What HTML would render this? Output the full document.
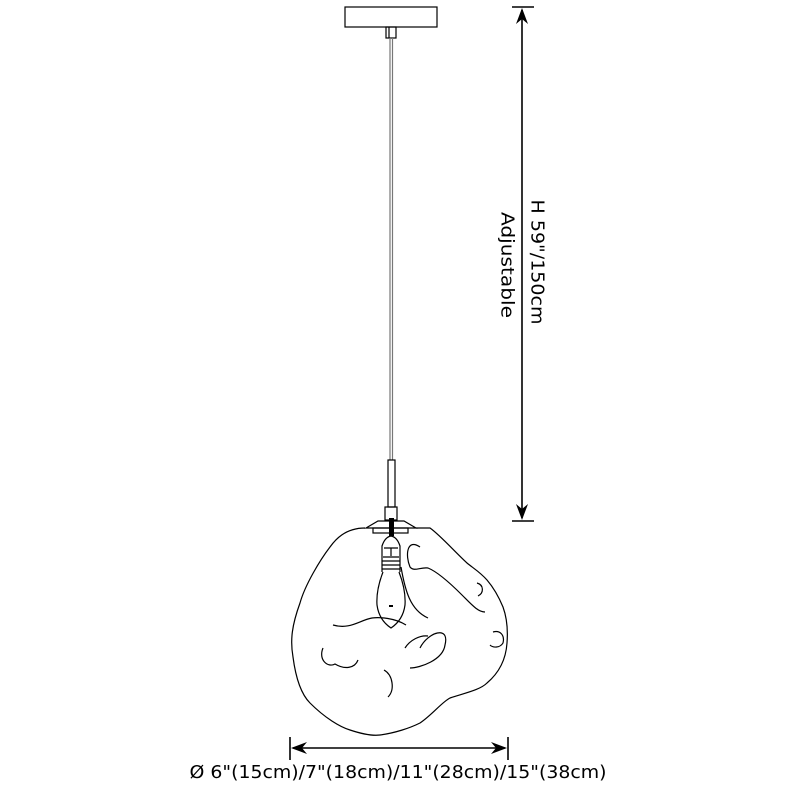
<!DOCTYPE html>
<html><head><style>
html,body{margin:0;padding:0;background:#fff;}
svg{display:block;}
text{font-family:"DejaVu Sans","Liberation Sans",sans-serif;fill:#000;}
</style></head><body>
<svg width="800" height="787" viewBox="0 0 800 787">
<g fill="none" stroke="#000" stroke-width="1.2">
<rect x="345" y="7" width="92" height="20"/>
<rect x="386" y="27" width="10" height="11"/>
<line x1="389" y1="27" x2="389" y2="38"/>
<line x1="390" y1="38" x2="390" y2="460" stroke="#777"/>
<line x1="392.5" y1="38" x2="392.5" y2="460" stroke="#777"/>
<rect x="388" y="460" width="7" height="47"/>
<rect x="385" y="507" width="12" height="13"/>
<path d="M366 528 L378 521 L404 521 L416 528 Z"/>
<rect x="373" y="528" width="35" height="5"/>
<path d="M382 572 L382 546 Q385 537 391 536 Q397 537 400 546 L400 572"/>
<path d="M384 548 H398 M391 548 V556"/>
<path d="M383 557 H399 M382 561 H400 M382 565 H400 M382 569 H400"/>
<path d="M383 572 Q376 590 377 605 Q379 620 391 628 Q403 620 405 605 Q406 590 399 572"/>
<path d="M365 528 C345 528 335 540 330 547 C320 560 305 585 300 603 C292 625 290 640 293 657 C296 680 302 695 310 703 C325 718 340 727 350 730 C362 734 372 736 380 735 C395 733 410 728 420 723 C432 715 442 702 450 698 C465 693 480 690 487 683 C500 672 506 658 507 643 C508 630 507 618 503 607 C498 595 493 587 487 580 C480 572 473 568 467 563 C455 552 440 535 430 528 L416 528"/>
<path d="M420 547 C407 538 405 555 410 567 C414 572 420 567 428 568 C438 572 452 585 462 595 C472 605 478 612 485 612"/>
<path d="M477 583 C484 585 484 593 478 596"/>
<path d="M401 567 C405 590 410 610 428 618"/>
<path d="M333 625 C350 630 360 620 372 618 C380 617 395 618 406 625"/>
<path d="M420 648 C428 632 450 625 445 645 C443 660 420 668 410 668 M405 648 C410 640 420 635 428 636"/>
<path d="M493 632 C500 630 505 635 503 643 C500 648 493 648 490 645"/>
<path d="M323 648 C318 660 328 668 335 664 C345 670 355 668 358 660"/>
<path d="M384 670 C393 675 395 690 388 697"/>
<line x1="512" y1="7" x2="534" y2="7" stroke-width="1.6"/>
<line x1="512" y1="521" x2="534" y2="521" stroke-width="1.6"/>
<line x1="522" y1="10" x2="522" y2="518" stroke-width="1.6"/>
<line x1="290" y1="737" x2="290" y2="760" stroke-width="1.6"/>
<line x1="508" y1="737" x2="508" y2="760" stroke-width="1.6"/>
<line x1="293" y1="748" x2="505" y2="748" stroke-width="1.6"/>
</g>
<g fill="#000">
<path d="M522 8 L516 24 L522 19 L528 24 Z"/>
<path d="M522 520 L516 504 L522 509 L528 504 Z"/>
<path d="M291 748 L307 742 L302 748 L307 754 Z"/>
<path d="M507 748 L491 742 L496 748 L491 754 Z"/>
<rect x="389" y="518" width="5" height="18"/>
<rect x="389" y="605" width="4" height="2"/>
</g>
<text x="537" y="262" font-size="18" text-anchor="middle" dominant-baseline="central" transform="rotate(90 537 262)" textLength="125" lengthAdjust="spacingAndGlyphs">H 59"/150cm</text>
<text x="507" y="265" font-size="18" text-anchor="middle" dominant-baseline="central" transform="rotate(90 507 265)" textLength="106" lengthAdjust="spacingAndGlyphs">Adjustable</text>
<text x="398" y="778" font-size="18" text-anchor="middle" textLength="417" lengthAdjust="spacingAndGlyphs">Ø 6"(15cm)/7"(18cm)/11"(28cm)/15"(38cm)</text>
</svg>
</body></html>
